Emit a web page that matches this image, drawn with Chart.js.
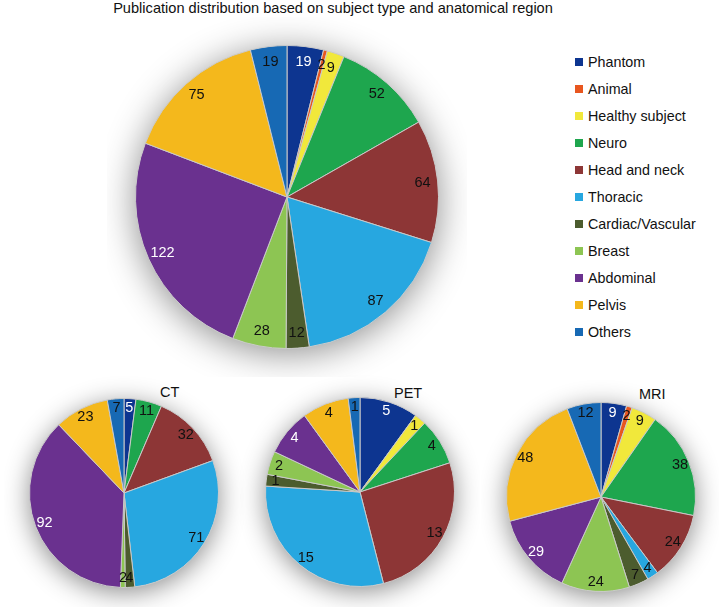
<!DOCTYPE html>
<html>
<head>
<meta charset="utf-8">
<script src="https://cdn.jsdelivr.net/npm/chart.js@4/dist/chart.umd.min.js"></script>
<style>
  html, body { margin: 0; padding: 0; background: #fff; }
  body { width: 719px; height: 607px; position: relative; overflow: hidden; font-family: "Liberation Sans", Arial, Helvetica, sans-serif; }
  .box { position: absolute; }
  .title { position: absolute; left: 0; width: 666px; top: 0px; text-align: center; font-size: 14.6px; color: #111; }
  .plabel { position: absolute; font-size: 14.5px; color: #111; }
  .legend { position: absolute; left: 575px; top: 48px; font-size: 14.3px; color: #111; }
  .legend .item { height: 27px; display: flex; align-items: center; white-space: nowrap; }
  .legend .sw { width: 8px; height: 8px; margin-right: 5px; display: inline-block; }
</style>
</head>
<body>
<div class="title">Publication distribution based on subject type and anatomical region</div>
<div class="legend" id="legend"></div>
<div class="plabel" style="left:160px; top:384px;">CT</div>
<div class="plabel" style="left:394px; top:385px;">PET</div>
<div class="plabel" style="left:639px; top:386px;">MRI</div>

<div class="box" style="left:107px; top:17px; width:360px; height:360px;"><canvas id="cMain"></canvas></div>
<div class="box" style="left:4px; top:373px; width:240px; height:240px;"><canvas id="cCT"></canvas></div>
<div class="box" style="left:240px; top:372px; width:240px; height:240px;"><canvas id="cPET"></canvas></div>
<div class="box" style="left:481px; top:377px; width:240px; height:240px;"><canvas id="cMRI"></canvas></div>

<script>
const categories = ["Phantom", "Animal", "Healthy subject", "Neuro", "Head and neck", "Thoracic", "Cardiac/Vascular", "Breast", "Abdominal", "Pelvis", "Others"];
const allValues = [19, 2, 9, 52, 64, 87, 12, 28, 122, 75, 19];
const ctValues  = [5, 0, 0, 11, 32, 71, 4, 2, 92, 23, 7];
const petValues = [5, 0, 1, 4, 13, 15, 1, 2, 4, 4, 1];
const mriValues = [9, 2, 9, 38, 24, 4, 7, 24, 29, 48, 12];

const colors = ["#0d3590", "#e8561f", "#f1e83b", "#1ea64e", "#8d3636", "#27a7e0", "#4c5c2e", "#8dc553", "#6a318f", "#f4b81c", "#1769b4"];
const labelColors = ["#ffffff", "#111", "#111", "#111", "#111", "#111", "#111", "#111", "#ffffff", "#111", "#111"];

// legend
const leg = document.getElementById('legend');
categories.forEach((c, i) => {
  const d = document.createElement('div');
  d.className = 'item';
  d.innerHTML = '<span class="sw" style="background:' + colors[i] + '"></span>' + c;
  leg.appendChild(d);
});

const shadowPlugin = {
  id: 'pieShadow',
  beforeDatasetsDraw(chart) {
    const arc = chart.getDatasetMeta(0).data[0];
    if (!arc) return;
    const ctx = chart.ctx;
    ctx.save();
    ctx.shadowColor = 'rgba(0,0,0,0.45)';
    ctx.shadowBlur = chart.options.shadowBlur || 24;
    ctx.shadowOffsetY = 5;
    ctx.beginPath();
    ctx.arc(arc.x, arc.y, arc.outerRadius, 0, Math.PI * 2);
    ctx.fillStyle = '#ffffff';
    ctx.fill();
    ctx.restore();
  }
};

const valuePlugin = {
  id: 'valueLabels',
  afterDatasetsDraw(chart) {
    const ctx = chart.ctx;
    const meta = chart.getDatasetMeta(0);
    const data = chart.data.datasets[0].data;
    ctx.save();
    ctx.font = '14.5px "Liberation Sans", Arial, sans-serif';
    ctx.textAlign = 'center';
    ctx.textBaseline = 'middle';
    meta.data.forEach((arc, i) => {
      if (!data[i]) return;
      const mid = (arc.startAngle + arc.endAngle) / 2;
      const r = arc.outerRadius * 0.9;
      ctx.fillStyle = labelColors[i];
      ctx.fillText(String(data[i]), arc.x + Math.cos(mid) * r, arc.y + Math.sin(mid) * r);
    });
    ctx.restore();
  }
};

function makePie(id, values, pad, blur) {
  new Chart(document.getElementById(id), {
    type: 'pie',
    data: {
      labels: categories,
      datasets: [{
        data: values,
        backgroundColor: colors,
        borderColor: '#c9c9c9',
        borderWidth: 1
      }]
    },
    options: {
      responsive: true,
      maintainAspectRatio: false,
      animation: false,
      shadowBlur: blur,
      layout: { padding: pad },
      plugins: { legend: { display: false }, tooltip: { enabled: false }, title: { display: false } }
    },
    plugins: [shadowPlugin, valuePlugin]
  });
}

makePie('cMain', allValues, 28, 36);
makePie('cCT', ctValues, 25, 26);
makePie('cPET', petValues, 25, 26);
makePie('cMRI', mriValues, 25, 26);
</script>
</body>
</html>
